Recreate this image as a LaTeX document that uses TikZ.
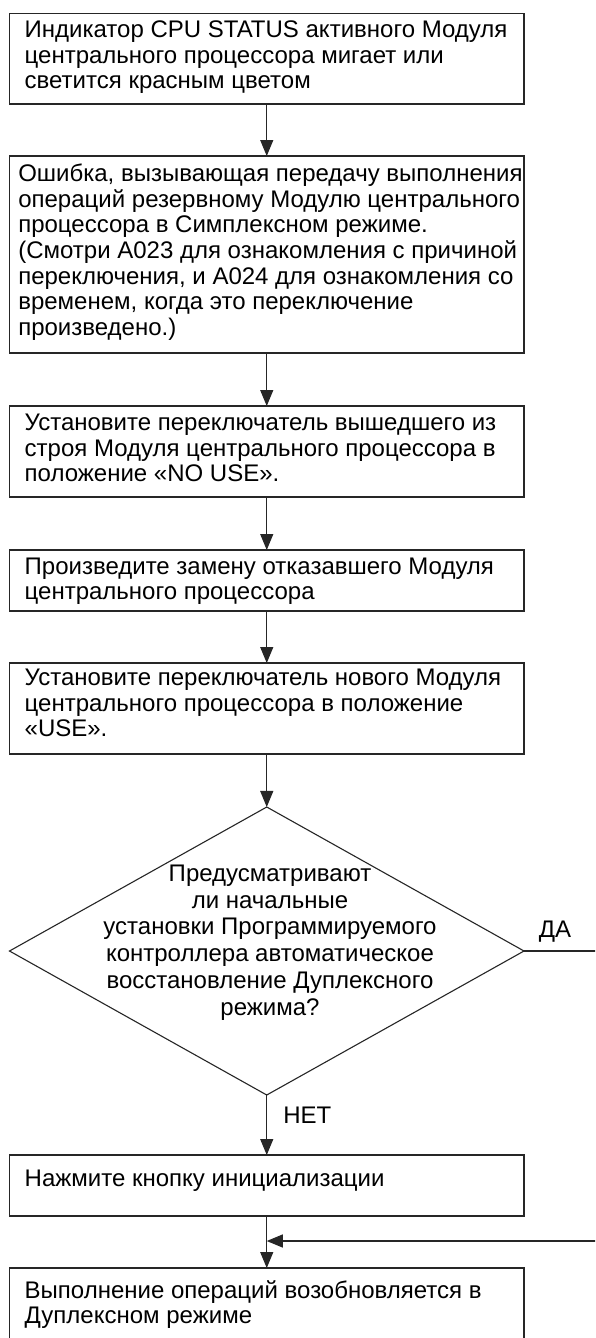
\documentclass[tikz,border=0pt]{standalone}
\usepackage{fontspec}
\setmainfont{Liberation Sans}
\usetikzlibrary{shapes.geometric,arrows.meta}
\newcommand\fsz{\fontsize{24pt}{25.6pt}\selectfont}
\newcommand\dsz{\fontsize{24pt}{26.8pt}\selectfont}
\newcommand\btext[4]{\parbox[t][#1][t]{#2}{\raggedright\hfuzz=50pt\rule{0pt}{#3}#4}}
\begin{document}
\begin{tikzpicture}[x=1pt,y=-1pt,
  box/.style={draw=black!85, line width=1.1pt, anchor=north west, inner ysep=0pt, outer sep=0pt, font=\fsz},
  dec/.style={draw=black!85, line width=1.1pt, diamond, inner sep=0pt, outer sep=0pt, minimum width=514.5pt, minimum height=288pt},
  lbl/.style={font=\fsz, inner sep=0pt},
  link/.style={draw=black!85, line width=1.1pt},
  arr/.style={link, -{Triangle[length=16pt,width=13pt]}}]
\useasboundingbox (0,0) rectangle (595,1338);
\fill[white] (0,0) rectangle (595,1338);
\clip (0,0) rectangle (595,1338);

\node[box, inner xsep=15.2pt] (b1) at (9.5,13.3)
  {\btext{90.7pt}{484.1pt}{24.5pt}{Индикатор CPU STATUS активного Модуля\\центрального процессора мигает или\\светится красным цветом}};
\node[box, inner xsep=8.8pt] (b2) at (9.5,156)
  {\btext{197pt}{496.9pt}{25.7pt}{\mbox{Ошибка, вызывающая передачу выполнения}\\\mbox{операций резервному Модулю центрального}\\\mbox{процессора в Симплексном режиме.}\\\mbox{(Смотри A023 для ознакомления с причиной}\\\mbox{переключения, и A024 для ознакомления со}\\\mbox{временем, когда это переключение}\\\mbox{произведено.)}}};
\node[box, inner xsep=15.2pt] (b3) at (9.5,406)
  {\btext{91pt}{484.1pt}{24.5pt}{Установите переключатель вышедшего из\\строя Модуля центрального процессора в\\положение «NO USE».}};
\node[box, inner xsep=15.2pt] (b4) at (9.5,550)
  {\btext{61pt}{484.1pt}{24pt}{Произведите замену отказавшего Модуля\\центрального процессора}};
\node[box, inner xsep=15.2pt] (b5) at (9.5,663)
  {\btext{91pt}{484.1pt}{22.5pt}{Установите переключатель нового Модуля\\центрального процессора в положение\\«USE».}};
\node[dec] (d) at (266.75,951) {};
\node[lbl, font=\dsz, align=center, anchor=north] (dt) at (270,864.5)
  {Предусматривают\\ли начальные\\установки Программируемого\\контроллера автоматическое\\восстановление Дуплексного\\режима?};
\node[box, inner xsep=15.2pt] (b6) at (9.5,1155)
  {\btext{61pt}{484.1pt}{31pt}{Нажмите кнопку инициализации}};
\node[box, inner xsep=15.2pt] (b7) at (9.5,1268)
  {\btext{95pt}{484.1pt}{30pt}{Выполнение операций возобновляется в\\Дуплексном режиме}};
\coordinate (jn) at (266.75,1241);

\draw[arr] (b1) -- (b2);
\draw[arr] (b2) -- (b3);
\draw[arr] (b3) -- (b4);
\draw[arr] (b4) -- (b5);
\draw[arr] (b5) -- (d);
\draw[arr] (d.south) -- (b6.north)
  node[lbl, pos=0.48, anchor=base west, xshift=16pt] (no) {НЕТ};
\draw[arr] (b6) -- (b7);
\draw[arr] (d.east) -- ++(120,0)
  node[lbl, pos=0.12, anchor=base west, yshift=14pt] (yes) {ДА}
  |- (jn);
\end{tikzpicture}
\end{document}
